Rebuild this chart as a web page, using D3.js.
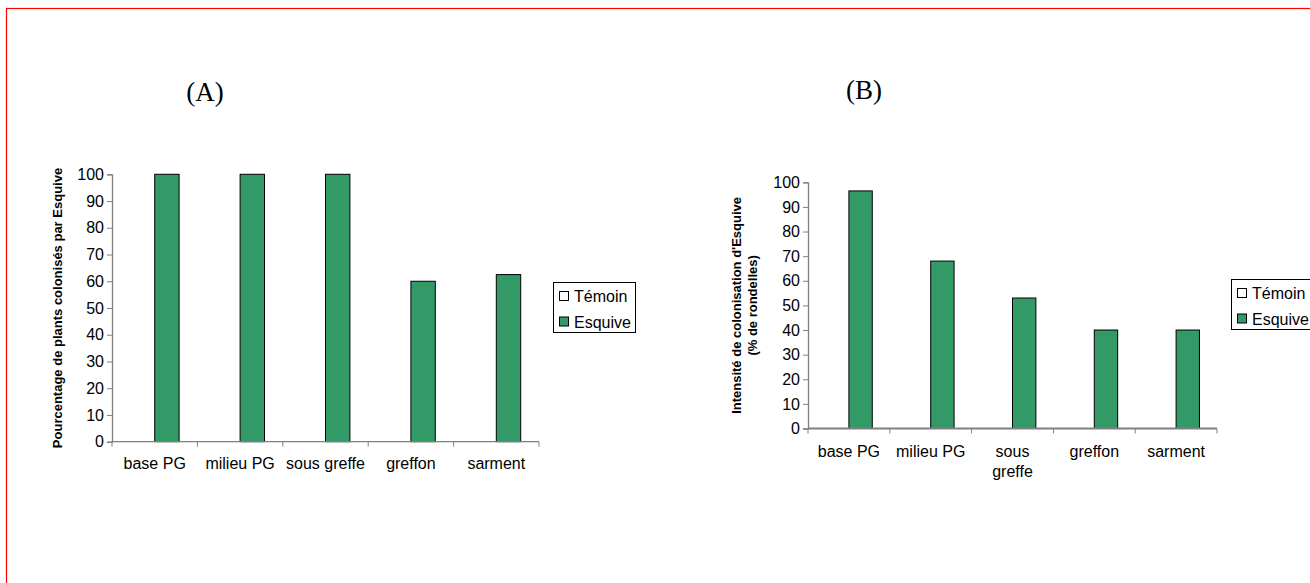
<!DOCTYPE html>
<html>
<head>
<meta charset="utf-8">
<script src="https://cdn.jsdelivr.net/npm/d3@7"></script>
<style>
  body { margin: 0; background: #fff; }
  svg { display: block; font-family: "Liberation Sans", Arial, sans-serif; }
</style>
</head>
<body>
<div id="chart"></div>
<script>
// categories and series
const categoriesA = ["base PG", "milieu PG", "sous greffe", "greffon", "sarment"];
const categoriesB = [["base PG"], ["milieu PG"], ["sous", "greffe"], ["greffon"], ["sarment"]];
const seriesNames = ["Témoin", "Esquive"];
const seriesColors = ["#ffffff", "#339966"];

// values (Témoin has no visible bars)
const temoinA = [0, 0, 0, 0, 0];
const esquiveA = [100, 100, 100, 60, 62.5];
const temoinB = [0, 0, 0, 0, 0];
const esquiveB = [96.5, 68, 53, 40, 40];

const yTicks = [0, 10, 20, 30, 40, 50, 60, 70, 80, 90, 100];

const WIDTH = 1310;
const HEIGHT = 583;

const svg = d3.select("#chart")
    .append("svg")
    .attr("width", WIDTH)
    .attr("height", HEIGHT);

// red page frame
svg.append("rect")
    .attr("x", 6.5)
    .attr("y", 8.5)
    .attr("width", 1400)
    .attr("height", 700)
    .attr("fill", "none")
    .attr("stroke", "#ff0000")
    .attr("stroke-width", 1.2);

function drawPanel(opts) {
    const g = svg.append("g");
    const labels = opts.categories.map(c => Array.isArray(c) ? c.join(" ") : c);

    const x0 = d3.scaleBand()
        .domain(labels)
        .range([opts.left, opts.right])
        .paddingInner(0)
        .paddingOuter(0);

    // Excel style: gap width 150% -> each bar is band / 3.5
    const x1 = d3.scaleBand()
        .domain(seriesNames)
        .range([0, x0.bandwidth()])
        .paddingInner(0)
        .paddingOuter(0.75);

    const y = d3.scaleLinear()
        .domain([0, 100])
        .range([opts.bottom, opts.top]);

    // title
    g.append("text")
        .attr("x", opts.titleX)
        .attr("y", opts.titleY)
        .attr("text-anchor", "middle")
        .attr("font-family", "'Liberation Serif', 'Times New Roman', serif")
        .attr("font-size", 27)
        .attr("fill", "#000")
        .text(opts.title);

    // bars
    const rows = labels.map((c, i) => ({ cat: c, values: [opts.temoin[i], opts.esquive[i]] }));
    g.selectAll("g.cat")
        .data(rows)
        .join("g")
        .attr("class", "cat")
        .attr("transform", d => `translate(${x0(d.cat)},0)`)
        .selectAll("rect")
        .data(d => d.values.map((v, i) => ({ key: seriesNames[i], value: v, i })))
        .join("rect")
        .attr("x", d => x1(d.key))
        .attr("y", d => y(d.value))
        .attr("width", x1.bandwidth())
        .attr("height", d => y(0) - y(d.value))
        .attr("fill", d => seriesColors[d.i])
        .attr("stroke", "#000")
        .attr("stroke-width", 1);

    // y axis
    const yAxis = g.append("g")
        .attr("transform", `translate(${opts.left},0)`)
        .call(d3.axisLeft(y).tickValues(yTicks).tickSize(5).tickPadding(3));
    yAxis.select(".domain").attr("stroke", "#808080").attr("stroke-width", 1.3);
    yAxis.selectAll(".tick line").attr("stroke", "#808080");
    yAxis.selectAll(".tick text")
        .attr("font-family", "'Liberation Sans', Arial, sans-serif")
        .attr("font-size", 16)
        .attr("fill", "#000");

    // x axis, ticks at band edges
    const xAxis = g.append("g")
        .attr("transform", `translate(0,${opts.bottom})`);
    xAxis.append("line")
        .attr("x1", opts.left)
        .attr("x2", opts.right)
        .attr("stroke", "#808080")
        .attr("stroke-width", opts.xAxisWidth);
    const edges = labels.map(c => x0(c)).concat([opts.right]);
    xAxis.selectAll("line.tk")
        .data(edges)
        .join("line")
        .attr("class", "tk")
        .attr("x1", d => d)
        .attr("x2", d => d)
        .attr("y1", 0)
        .attr("y2", 5)
        .attr("stroke", "#808080");

    // category labels (absolute position)
    g.selectAll("text.cat-label")
        .data(opts.categories)
        .join("text")
        .attr("class", "cat-label")
        .attr("y", opts.labelY)
        .attr("text-anchor", "middle")
        .attr("font-size", 16)
        .attr("fill", "#000")
        .each(function (d, i) {
            const cx = x0(labels[i]) + x0.bandwidth() / 2;
            d3.select(this).selectAll("tspan")
                .data(Array.isArray(d) ? d : [d])
                .join("tspan")
                .attr("x", cx)
                .attr("dy", (_, j) => j ? 20 : 0)
                .text(t => t);
        });

    // y axis title (rotated)
    const yt = g.append("text")
        .attr("transform", `translate(${opts.yTitleX},${(opts.top + opts.bottom) / 2}) rotate(-90)`)
        .attr("text-anchor", "middle")
        .attr("font-size", 13)
        .attr("font-weight", "bold")
        .attr("fill", "#000");
    yt.selectAll("tspan")
        .data(opts.yTitle)
        .join("tspan")
        .attr("x", 0)
        .attr("dy", (_, i) => i ? 16 : 0)
        .text(d => d);

    // legend
    const lg = g.append("g").attr("transform", `translate(${opts.legendX},${opts.legendY})`);
    lg.append("rect")
        .attr("x", 0.5)
        .attr("y", 0.5)
        .attr("width", opts.legendW)
        .attr("height", 50)
        .attr("fill", "#fff")
        .attr("stroke", "#000");
    const items = lg.selectAll("g.item")
        .data(seriesNames)
        .join("g")
        .attr("class", "item")
        .attr("transform", (_, i) => `translate(6,${14 + i * 25.5})`);
    items.append("rect")
        .attr("x", 0.5)
        .attr("y", -4.5)
        .attr("width", 9)
        .attr("height", 9)
        .attr("fill", (_, i) => seriesColors[i])
        .attr("stroke", "#000");
    items.append("text")
        .attr("x", 15)
        .attr("y", 6)
        .attr("font-size", 16)
        .attr("fill", "#000")
        .text(d => d);
}

drawPanel({
    title: "(A)", titleX: 205, titleY: 101,
    categories: categoriesA, temoin: temoinA, esquive: esquiveA,
    left: 112, right: 539, top: 174.3, bottom: 441.7,
    labelY: 469, xAxisWidth: 1.3,
    yTitle: ["Pourcentage de plants colonisés par Esquive"], yTitleX: 62,
    legendX: 553, legendY: 282, legendW: 82
});

drawPanel({
    title: "(B)", titleX: 864, titleY: 99,
    categories: categoriesB, temoin: temoinB, esquive: esquiveB,
    left: 808, right: 1217, top: 182.3, bottom: 428.5,
    labelY: 457, xAxisWidth: 2,
    yTitle: ["Intensité de colonisation d'Esquive", "(% de rondelles)"], yTitleX: 741,
    legendX: 1231, legendY: 279, legendW: 100
});
</script>
</body>
</html>
